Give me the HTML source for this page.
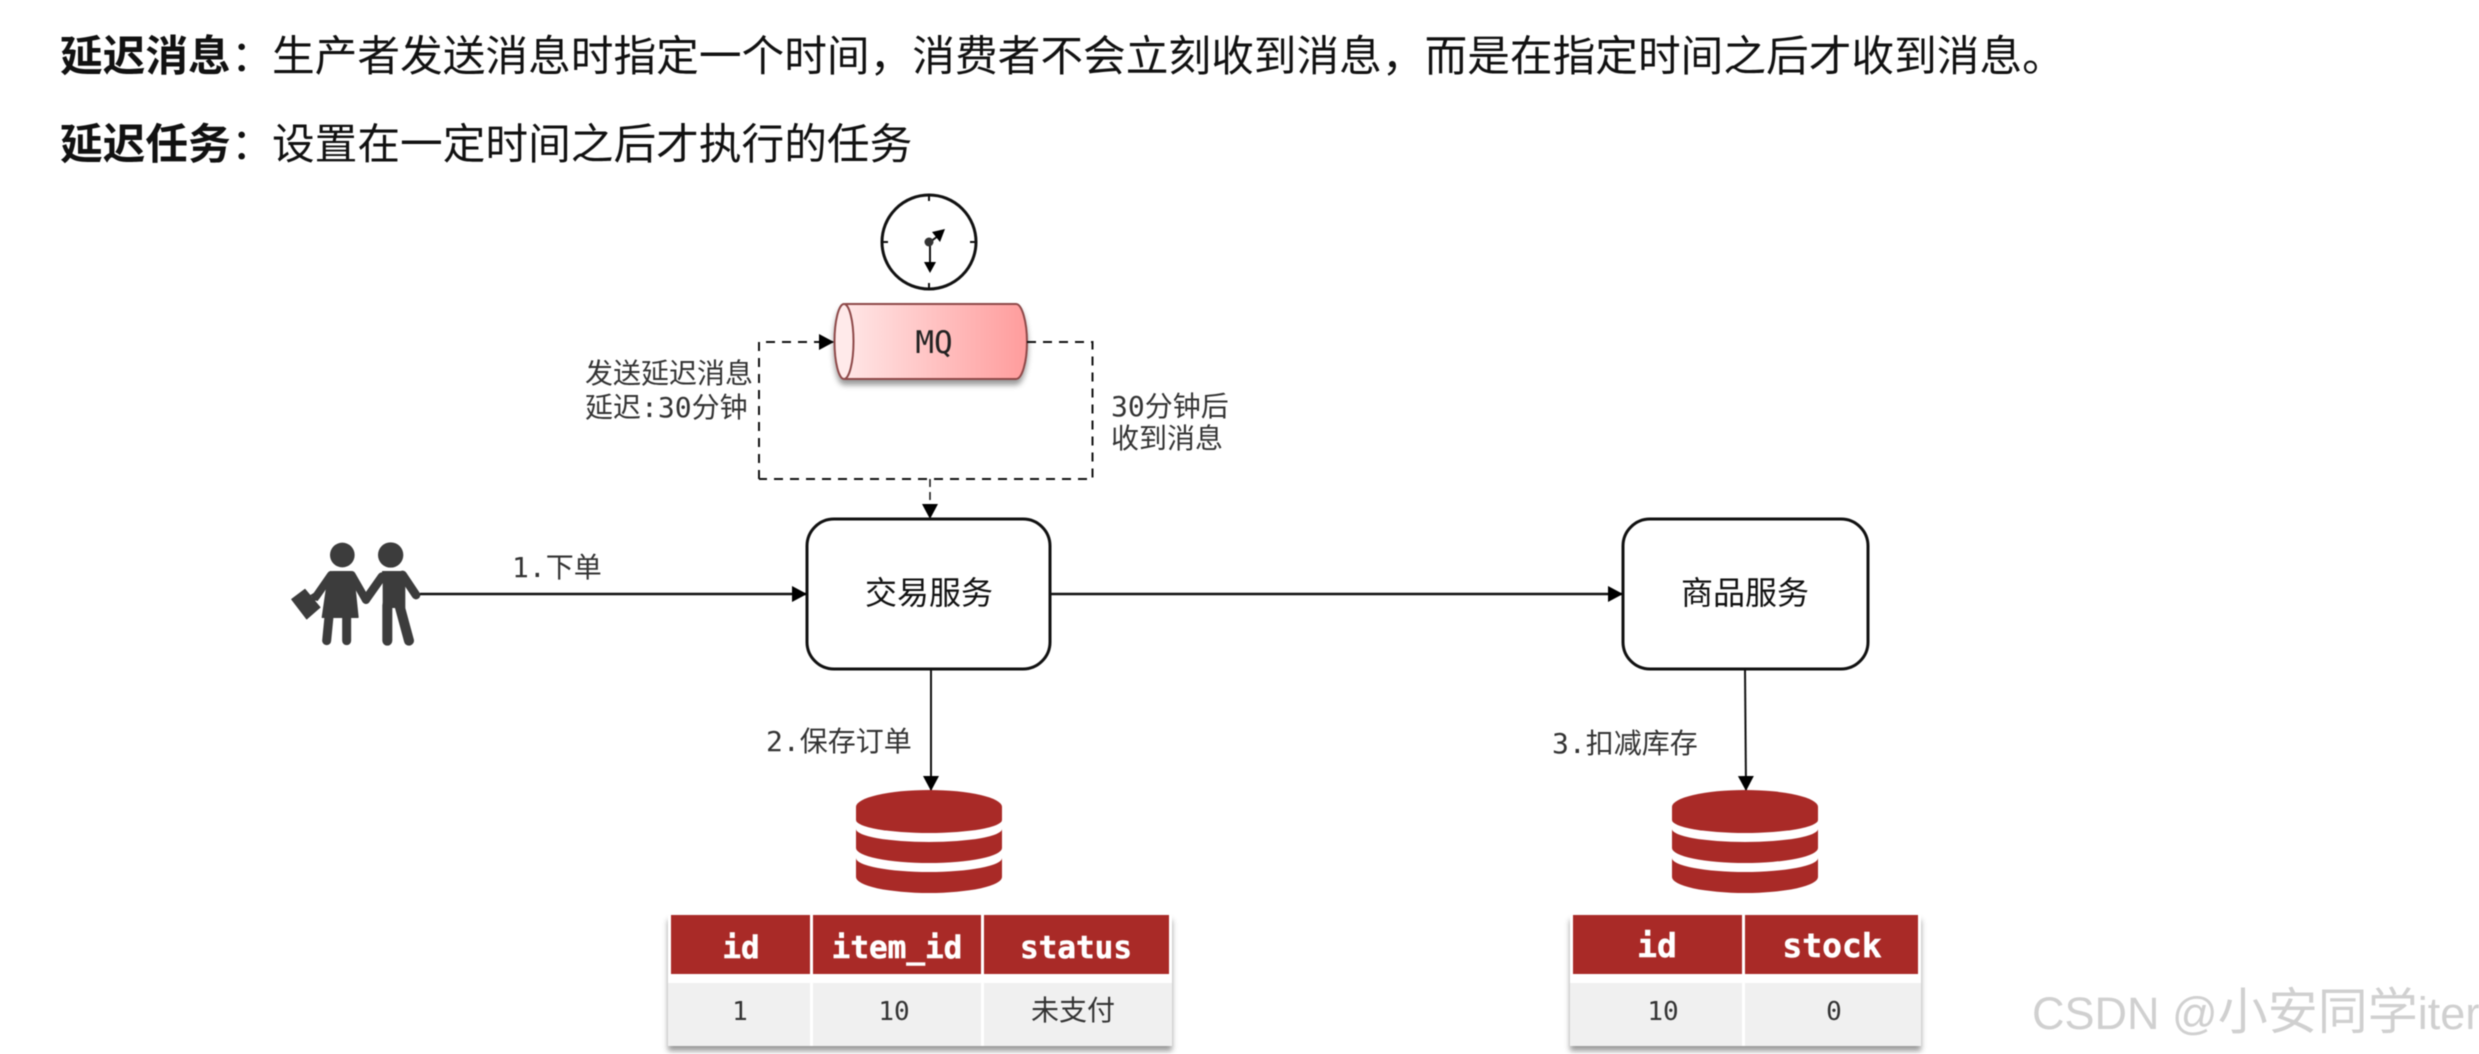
<!DOCTYPE html>
<html lang="zh">
<head>
<meta charset="utf-8">
<title>延迟消息</title>
<style>
html,body{margin:0;padding:0;background:#fff;width:2479px;height:1054px;overflow:hidden}
svg{display:block;filter:blur(.6px)}
.t{font-family:"Liberation Sans","Noto Sans CJK SC",sans-serif;font-size:42.7px;fill:#111}
.m{font-family:"DejaVu Sans Mono","Noto Sans CJK SC",monospace;font-size:28px;fill:#333}
.b{font-family:"Liberation Sans","Noto Sans CJK SC",sans-serif;font-size:32px;fill:#111;text-anchor:middle}
.h{font-family:"DejaVu Sans Mono",monospace;font-weight:bold;font-size:30px;fill:#fff;text-anchor:middle;stroke:#fff;stroke-width:.5px}
.c{font-family:"DejaVu Sans Mono","Noto Sans CJK SC",monospace;font-size:26px;fill:#333;text-anchor:middle}
</style>
</head>
<body>
<svg xmlns="http://www.w3.org/2000/svg" width="2479" height="1054" viewBox="0 0 2479 1054">
<defs>
<linearGradient id="g" x1="0" y1="0" x2="1" y2="0"><stop offset="0" stop-color="#ffe6e6"/><stop offset="1" stop-color="#ff9c9c"/></linearGradient>
<filter id="s" x="-5%" y="-10%" width="110%" height="130%"><feDropShadow dx="0" dy="5" stdDeviation="3" flood-color="#000" flood-opacity=".4"/></filter>
<marker id="a" markerWidth="16" markerHeight="16" refX="14" refY="8" orient="auto" markerUnits="userSpaceOnUse"><path d="M0 0L15 8L0 16z" fill="#000"/></marker>
<g id="db" fill="#a92a27">
<path d="M-73 17a73 17 0 0 1 146 0V30a73 13 0 0 1 -146 0z"/>
<path d="M-73 39a73 13 0 0 0 146 0V58a73 15 0 0 1 -146 0z"/>
<path d="M-73 68a73 14 0 0 0 146 0V87a73 16 0 0 1 -146 0z"/>
</g>
</defs>

<text class="t" x="60" y="71"><tspan font-weight="bold">延迟消息</tspan></text>
<text class="t" x="231" y="71">：</text>
<text class="t" x="272" y="71">生产者发送消息时指定一个时间，消费者不会立刻收到消息，而是在指定时间之后才收到消息。</text>
<text class="t" x="60" y="159"><tspan font-weight="bold">延迟任务</tspan></text>
<text class="t" x="231" y="159">：</text>
<text class="t" x="272" y="159">设置在一定时间之后才执行的任务</text>

<!-- clock -->
<circle cx="929" cy="242" r="47" fill="#fff" stroke="#111" stroke-width="3"/>
<path d="M929 195v6M929 289v-6M882 242h6M976 242h-6" stroke="#111" stroke-width="2"/>
<path d="M930 242V264" stroke="#111" stroke-width="2"/>
<path d="M924 262h12l-6 11z" fill="#000"/>
<path d="M930 242L938 236" stroke="#111" stroke-width="2"/>
<path d="M932 232L945 229L940 242z" fill="#000"/>
<circle cx="929" cy="242" r="4.500" fill="#333"/>

<!-- MQ -->
<g filter="url(#s)">
<path d="M846 304H1016C1022 304 1027 322 1027 342C1027 362 1022 379 1016 379H846Z" fill="url(#g)" stroke="#8e4a4a" stroke-width="2"/>
<ellipse cx="844" cy="341.500" rx="9.500" ry="37.500" fill="#ffeaea" stroke="#8e4a4a" stroke-width="2"/>
</g>
<text x="934" y="353" font-family="DejaVu Sans Mono" font-size="31" fill="#222" text-anchor="middle">MQ</text>

<!-- dashed loop -->
<path d="M759 479V342H833" fill="none" stroke="#111" stroke-width="2" stroke-dasharray="9 7" marker-end="url(#a)"/>
<path d="M1027 342H1092.500V479H759" fill="none" stroke="#111" stroke-width="2" stroke-dasharray="9 7"/>
<path d="M930 479V518" fill="none" stroke="#111" stroke-width="1.500" stroke-dasharray="8 5" marker-end="url(#a)"/>

<text class="m" x="585" y="383">发送延迟消息</text>
<text class="m" x="585" y="417">延迟:30分钟</text>
<text class="m" x="1111" y="416">30分钟后</text>
<text class="m" x="1111" y="448">收到消息</text>

<!-- person -->
<g transform="translate(270 520) scale(.3333)" fill="#3c3c3c" stroke="#3c3c3c" stroke-linecap="round" stroke-linejoin="round">
<circle cx="217" cy="105" r="37" stroke="none"/>
<circle cx="362" cy="105" r="38" stroke="none"/>
<path d="M188 155H242L252 175L264 292H157L174 175z" stroke-width="4"/>
<path d="M183 165L138 230M245 165L288 240" fill="none" stroke-width="24"/>
<path d="M177 290L170 362M230 290V362" fill="none" stroke-width="27"/>
<path d="M338 155H393L404 175V262H340V175z" stroke-width="4"/>
<path d="M336 170L288 238M398 165L438 225" fill="none" stroke-width="26"/>
<path d="M352 255V362M388 255L417 362" fill="none" stroke-width="30"/>
<path d="M65 238L105 208L150 262L110 297z" stroke-width="3"/>
<path d="M122 228L135 220L142 240" fill="none" stroke-width="6"/>
</g>

<!-- boxes -->
<rect x="807" y="519" width="243" height="150" rx="27" fill="#fff" stroke="#111" stroke-width="3"/>
<rect x="1623" y="519" width="245" height="150" rx="27" fill="#fff" stroke="#111" stroke-width="3"/>
<text class="b" x="929" y="604">交易服务</text>
<text class="b" x="1745" y="604">商品服务</text>

<!-- arrows -->
<path d="M420 594H806" stroke="#111" stroke-width="2.500" marker-end="url(#a)"/>
<path d="M1050 594H1622" stroke="#111" stroke-width="2.500" marker-end="url(#a)"/>
<path d="M931 669V790" stroke="#111" stroke-width="2" marker-end="url(#a)"/>
<path d="M1745 669L1746 790" stroke="#111" stroke-width="2" marker-end="url(#a)"/>

<text class="m" x="512" y="577">1.下单</text>
<text class="m" x="766" y="751">2.保存订单</text>
<text class="m" x="1552" y="753">3.扣减库存</text>

<!-- DBs -->
<use href="#db" x="929" y="790"/>
<use href="#db" x="1745" y="790"/>

<!-- table 1 -->
<rect x="668" y="915" width="504" height="131" fill="#fff" filter="url(#s)"/>
<rect x="668" y="983" width="142" height="63" fill="#f0f0f0"/>
<rect x="813" y="983" width="168" height="63" fill="#f0f0f0"/>
<rect x="984" y="983" width="188" height="63" fill="#f0f0f0"/>
<rect x="671" y="915" width="139" height="59" fill="#a92a27"/>
<rect x="813" y="915" width="168" height="59" fill="#a92a27"/>
<rect x="984" y="915" width="185" height="59" fill="#a92a27"/>
<text class="h" x="741" y="958" style="font-size:31px">id</text>
<text class="h" x="897" y="958" style="font-size:31px">item_id</text>
<text class="h" x="1076" y="958" style="font-size:31px">status</text>
<text class="c" x="740" y="1020">1</text>
<text class="c" x="894" y="1020">10</text>
<text class="c" x="1073" y="1020" style="font-size:28px">未支付</text>

<!-- table 2 -->
<rect x="1570" y="915" width="351" height="131" fill="#fff" filter="url(#s)"/>
<rect x="1570" y="983" width="172" height="63" fill="#f0f0f0"/>
<rect x="1745" y="983" width="176" height="63" fill="#f0f0f0"/>
<rect x="1573" y="915" width="169" height="59" fill="#a92a27"/>
<rect x="1745" y="915" width="173" height="59" fill="#a92a27"/>
<text class="h" x="1657" y="957" style="font-size:33px">id</text>
<text class="h" x="1832" y="957" style="font-size:33px">stock</text>
<text class="c" x="1663" y="1020">10</text>
<text class="c" x="1834" y="1020">0</text>

<!-- watermark -->
<text x="2032" y="1029" font-family="Liberation Sans,Noto Sans CJK SC,sans-serif" font-size="45" fill="#d0d0d0">CSDN @<tspan font-size="50">小安同学</tspan>iter</text>
</svg>
</body>
</html>
